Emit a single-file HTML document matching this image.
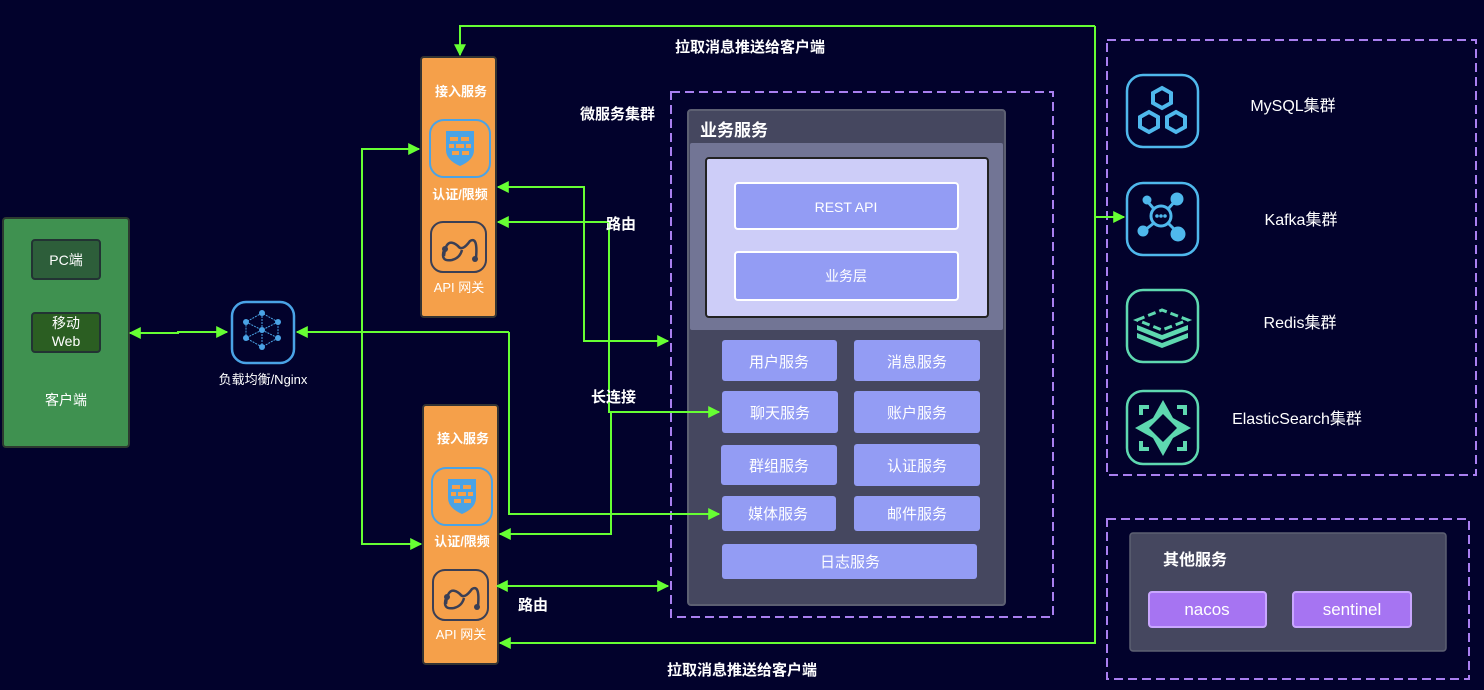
<!DOCTYPE html>
<html><head><meta charset="utf-8"><style>
html,body{margin:0;padding:0;background:#02022c;}
svg{display:block;}
text{font-family:"Liberation Sans","Noto Sans CJK SC",sans-serif;fill:#fff;}
</style></head><body>
<svg width="1484" height="690" viewBox="0 0 1484 690" xmlns="http://www.w3.org/2000/svg">
<defs>
<marker id="a" viewBox="0 0 10 10" refX="9" refY="5" markerWidth="6" markerHeight="6" orient="auto-start-reverse" markerUnits="strokeWidth">
<path d="M0,0 L10,5 L0,10 z" fill="#66ff33"/></marker>
</defs>
<rect width="1484" height="690" fill="#02022c"/>

<!-- client -->
<rect x="3" y="218" width="126" height="229" rx="3" fill="#3f9150" stroke="#2c3a30" stroke-width="2"/>
<rect x="32" y="240" width="68" height="39" rx="3" fill="#2d5e3a" stroke="#233" stroke-width="2"/>
<text x="66" y="265" font-size="14" text-anchor="middle">PC端</text>
<rect x="32" y="313" width="68" height="39" rx="3" fill="#2b5e22" stroke="#233" stroke-width="2"/>
<text x="66" y="328" font-size="14" text-anchor="middle">移动</text>
<text x="66" y="346" font-size="14" text-anchor="middle">Web</text>
<text x="66" y="405" font-size="14" text-anchor="middle">客户端</text>

<!-- nginx -->
<rect x="232" y="302" width="62" height="61" rx="14" fill="none" stroke="#4aa3e6" stroke-width="2.5"/>
<g stroke="#4aa3e6" stroke-width="1" stroke-dasharray="2,1" fill="none">
<path d="M262,313 L246,322 L246,338 L262,347 L278,338 L278,322 Z M262,313 L262,347 M246,322 L278,338 M278,322 L246,338"/>
</g>
<g fill="#4aa3e6"><circle cx="262" cy="313" r="3"/><circle cx="246" cy="322" r="3"/><circle cx="278" cy="322" r="3"/><circle cx="262" cy="330" r="3"/><circle cx="246" cy="338" r="3"/><circle cx="278" cy="338" r="3"/><circle cx="262" cy="347" r="3"/></g>
<text x="263" y="384" font-size="13" text-anchor="middle">负载均衡/Nginx</text>

<!-- orange boxes -->
<g>
<rect x="421" y="57" width="75" height="260" rx="3" fill="#f5a04a" stroke="#333" stroke-width="2"/>
<text x="461" y="96" font-size="13" text-anchor="middle" font-weight="bold">接入服务</text>
<rect x="430" y="120" width="60" height="57" rx="14" fill="none" stroke="#4aa3e6" stroke-width="2"/>
<path d="M446,131 L474,131 L474,150 Q474,160 460,166 Q446,160 446,150 Z" fill="#4aa3e6"/>
<g fill="#f5a04a"><rect x="450" y="137" width="8" height="4"/><rect x="461" y="137" width="8" height="4"/><rect x="449" y="144" width="5" height="4"/><rect x="456" y="144" width="8" height="4"/><rect x="466" y="144" width="5" height="4"/><rect x="452" y="151" width="7" height="4"/><rect x="462" y="151" width="7" height="4"/></g>
<text x="460" y="199" font-size="13" text-anchor="middle" font-weight="bold">认证/限频</text>
<rect x="431" y="222" width="55" height="50" rx="12" fill="none" stroke="#3a3f55" stroke-width="2"/>
<path d="M444,256 Q446,236 458,246 Q462,252 470,241 Q478,236 476,258 M444,250 Q440,262 452,260 Q460,258 462,250" fill="none" stroke="#3a3f55" stroke-width="2.5"/>
<circle cx="445" cy="249" r="3" fill="#3a3f55"/><circle cx="475" cy="259" r="3" fill="#3a3f55"/>
<text x="459" y="292" font-size="13" text-anchor="middle">API 网关</text>
</g>
<g transform="translate(2,348)">
<rect x="421" y="57" width="75" height="259" rx="3" fill="#f5a04a" stroke="#333" stroke-width="2"/>
<text x="461" y="95" font-size="13" text-anchor="middle" font-weight="bold">接入服务</text>
<rect x="430" y="120" width="60" height="57" rx="14" fill="none" stroke="#4aa3e6" stroke-width="2"/>
<path d="M446,131 L474,131 L474,150 Q474,160 460,166 Q446,160 446,150 Z" fill="#4aa3e6"/>
<g fill="#f5a04a"><rect x="450" y="137" width="8" height="4"/><rect x="461" y="137" width="8" height="4"/><rect x="449" y="144" width="5" height="4"/><rect x="456" y="144" width="8" height="4"/><rect x="466" y="144" width="5" height="4"/><rect x="452" y="151" width="7" height="4"/><rect x="462" y="151" width="7" height="4"/></g>
<text x="460" y="198" font-size="13" text-anchor="middle" font-weight="bold">认证/限频</text>
<rect x="431" y="222" width="55" height="50" rx="12" fill="none" stroke="#3a3f55" stroke-width="2"/>
<path d="M444,256 Q446,236 458,246 Q462,252 470,241 Q478,236 476,258 M444,250 Q440,262 452,260 Q460,258 462,250" fill="none" stroke="#3a3f55" stroke-width="2.5"/>
<circle cx="445" cy="249" r="3" fill="#3a3f55"/><circle cx="475" cy="259" r="3" fill="#3a3f55"/>
<text x="459" y="291" font-size="13" text-anchor="middle">API 网关</text>
</g>

<!-- microservice cluster -->
<rect x="671" y="92" width="382" height="525" fill="none" stroke="#a97ff0" stroke-width="2" stroke-dasharray="9,5"/>
<text x="580" y="119" font-size="15" font-weight="bold">微服务集群</text>
<rect x="688" y="110" width="317" height="495" rx="3" fill="#45475f" stroke="#5d6072" stroke-width="2"/>
<text x="700" y="136" font-size="17" font-weight="bold">业务服务</text>
<rect x="690" y="143" width="313" height="187" rx="2" fill="#727595"/>
<rect x="706" y="158" width="282" height="159" rx="3" fill="#cdcdf8" stroke="#222" stroke-width="2"/>
<rect x="735" y="183" width="223" height="46" rx="3" fill="#939cf4" stroke="#fff" stroke-width="2"/>
<text x="846" y="212" font-size="14" text-anchor="middle">REST API</text>
<rect x="735" y="252" width="223" height="48" rx="3" fill="#939cf4" stroke="#fff" stroke-width="2"/>
<text x="846" y="281" font-size="14" text-anchor="middle">业务层</text>
<g fill="#939cf4">
<rect x="722" y="340" width="115" height="41" rx="3"/><rect x="854" y="340" width="126" height="41" rx="3"/>
<rect x="722" y="391" width="116" height="42" rx="3"/><rect x="854" y="391" width="126" height="42" rx="3"/>
<rect x="721" y="445" width="116" height="40" rx="3"/><rect x="854" y="444" width="126" height="42" rx="3"/>
<rect x="722" y="496" width="114" height="35" rx="3"/><rect x="854" y="496" width="126" height="35" rx="3"/>
<rect x="722" y="544" width="255" height="35" rx="3"/>
</g>
<g font-size="15" text-anchor="middle">
<text x="779" y="367">用户服务</text><text x="917" y="367">消息服务</text>
<text x="780" y="418">聊天服务</text><text x="917" y="418">账户服务</text>
<text x="779" y="471">群组服务</text><text x="917" y="471">认证服务</text>
<text x="778" y="519">媒体服务</text><text x="917" y="519">邮件服务</text>
<text x="850" y="567">日志服务</text>
</g>

<!-- storage cluster -->
<rect x="1107" y="40" width="369" height="435" fill="none" stroke="#a97ff0" stroke-width="2" stroke-dasharray="9,5"/>
<g fill="none" stroke-width="2.5">
<rect x="1127" y="75" width="71" height="72" rx="16" stroke="#4fb8ec"/>
<rect x="1127" y="183" width="71" height="72" rx="16" stroke="#4fb8ec"/>
<rect x="1127" y="290" width="71" height="72" rx="16" stroke="#5ed8b0"/>
<rect x="1127" y="391" width="71" height="73" rx="16" stroke="#5ed8b0"/>
</g>
<g fill="none" stroke="#4fb8ec" stroke-width="4">
<path d="M1162,88 l9,5 v10 l-9,5 l-9,-5 v-10 z"/>
<path d="M1149,112 l9,5 v10 l-9,5 l-9,-5 v-10 z"/>
<path d="M1176,112 l9,5 v10 l-9,5 l-9,-5 v-10 z"/>
</g>
<g fill="#4fb8ec" stroke="#4fb8ec">
<circle cx="1161" cy="216" r="10" fill="none" stroke-width="3"/>
<path d="M1154,209 L1147,201 M1168,209 L1176,200 M1154,223 L1145,230 M1168,223 L1176,231" stroke-width="3"/>
<circle cx="1147" cy="200" r="4"/><circle cx="1177" cy="199" r="6"/><circle cx="1143" cy="231" r="5"/><circle cx="1178" cy="234" r="7"/>
<circle cx="1157" cy="216" r="1.3"/><circle cx="1161" cy="216" r="1.3"/><circle cx="1165" cy="216" r="1.3"/>
</g>
<g fill="#5ed8b0">
<path d="M1137,320 L1162,310 L1188,320 L1162,330 Z" fill="none" stroke="#5ed8b0" stroke-width="3" stroke-dasharray="8,4"/>
<path d="M1137,325 L1162,335 L1188,325 L1188,330 L1162,340 L1137,330 Z"/>
<path d="M1137,333 L1162,343 L1188,333 L1188,338 L1162,348 L1137,338 Z"/>
</g>
<g fill="#5ed8b0">
<path d="M1163,400 L1173,418 L1191,428 L1173,438 L1163,456 L1153,438 L1135,428 L1153,418 Z M1163,414 L1149,428 L1163,442 L1177,428 Z" fill-rule="evenodd"/>
<path d="M1139,405 h10 v4 h-6 v6 h-4 z M1187,405 h-10 v4 h6 v6 h4 z M1139,451 h10 v-4 h-6 v-6 h-4 z M1187,451 h-10 v-4 h6 v-6 h4 z"/>
</g>
<g font-size="16" text-anchor="middle">
<text x="1293" y="111">MySQL集群</text>
<text x="1301" y="225">Kafka集群</text>
<text x="1300" y="328">Redis集群</text>
<text x="1297" y="424">ElasticSearch集群</text>
</g>

<!-- other services -->
<rect x="1107" y="519" width="362" height="160" fill="none" stroke="#a97ff0" stroke-width="2" stroke-dasharray="9,5"/>
<rect x="1130" y="533" width="316" height="118" rx="3" fill="#45475f" stroke="#5d6072" stroke-width="1.5"/>
<text x="1163" y="565" font-size="16" font-weight="bold">其他服务</text>
<rect x="1149" y="592" width="117" height="35" rx="3" fill="#a674f2" stroke="#c9a6ff" stroke-width="2"/>
<rect x="1293" y="592" width="118" height="35" rx="3" fill="#a674f2" stroke="#c9a6ff" stroke-width="2"/>
<text x="1207" y="615" font-size="17" text-anchor="middle">nacos</text>
<text x="1352" y="615" font-size="17" text-anchor="middle">sentinel</text>

<!-- connectors -->
<g fill="none" stroke="#66ff33" stroke-width="2">
<path d="M1095,217 H1124" marker-end="url(#a)"/>
<path d="M1095,26 V643 H500" marker-end="url(#a)"/>
<path d="M1095,26 H460 V55" marker-end="url(#a)"/>
<path d="M130,333 H178 V332 H227" marker-start="url(#a)" marker-end="url(#a)"/>
<path d="M362,332 V149 H419" marker-end="url(#a)"/>
<path d="M362,332 V544 H421" marker-end="url(#a)"/>
<path d="M509,332 H297" marker-end="url(#a)"/>
<path d="M509,332 V514 H719" marker-end="url(#a)"/>
<path d="M498,187 H584 V341 H668" marker-start="url(#a)" marker-end="url(#a)"/>
<path d="M498,222 H609 V412 H719" marker-start="url(#a)" marker-end="url(#a)"/>
<path d="M611,412 V534 H500" marker-end="url(#a)"/>
<path d="M497,586 H668" marker-start="url(#a)" marker-end="url(#a)"/>
</g>

<g font-size="15" font-weight="bold">
<text x="675" y="52">拉取消息推送给客户端</text>
<text x="667" y="675">拉取消息推送给客户端</text>
<text x="606" y="229">路由</text>
<text x="591" y="402">长连接</text>
<text x="518" y="610">路由</text>
</g>
</svg>
</body></html>
